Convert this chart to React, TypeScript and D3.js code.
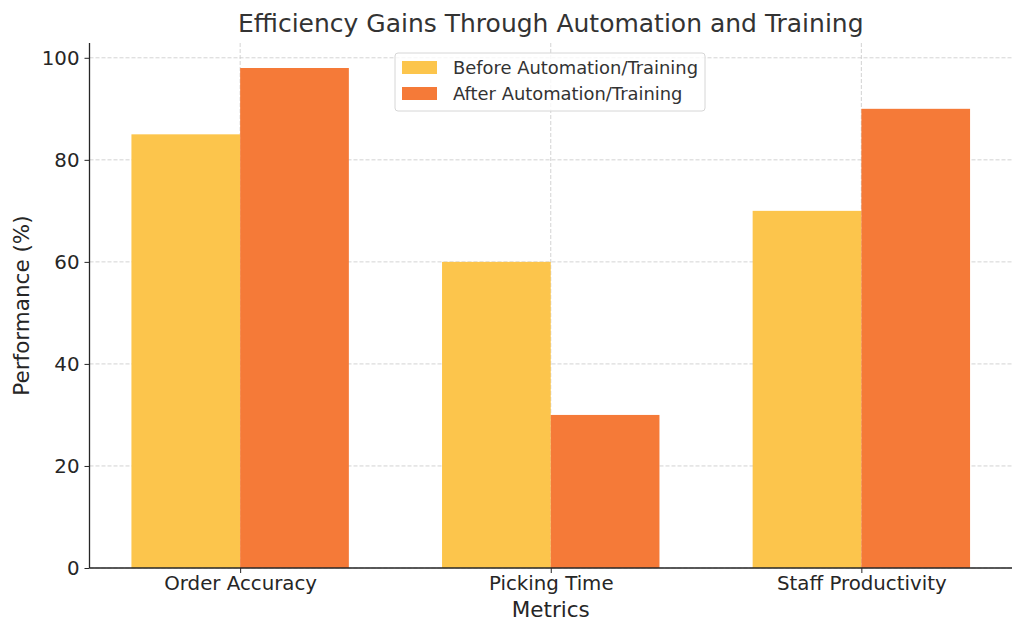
import React, { useEffect, useRef } from 'react';
import * as d3 from 'd3';

const categories = ['Order Accuracy', 'Picking Time', 'Staff Productivity'];
const beforeValues = [85, 60, 70];
const afterValues = [98, 30, 90];
const seriesNames = ['Before Automation/Training', 'After Automation/Training'];
const seriesColors = ['#fcc54c', '#f57a38'];
const yTicks = [0, 20, 40, 60, 80, 100];

const App = () => {
  const svgRef = useRef<SVGSVGElement>(null);

  useEffect(() => {
    const svg = d3.select(svgRef.current);
    svg.selectAll('*').remove();

    const width = 1024;
    const height = 635;
    const margin = { top: 43, right: 12, bottom: 67, left: 89.5 };
    const font = 'DejaVu Sans, sans-serif';
    const textColor = '#262626';

    svg.attr('width', width).attr('height', height);

    const barW = 0.35;
    const x = d3.scaleLinear()
      .domain([-barW - 0.135, categories.length - 1 + barW + 0.135])
      .range([margin.left, width - margin.right]);

    const yMax = d3.max(afterValues.concat(beforeValues))! * 1.05;
    const y = d3.scaleLinear()
      .domain([0, yMax])
      .range([height - margin.bottom, margin.top]);

    const series = [beforeValues, afterValues];

    // grid
    const grid = svg.append('g');
    yTicks.forEach(t => {
      grid.append('line')
        .attr('x1', margin.left).attr('x2', width - margin.right)
        .attr('y1', y(t)).attr('y2', y(t))
        .attr('stroke', '#c8c8c8').attr('stroke-width', 0.8)
        .attr('stroke-dasharray', '4,2');
    });
    categories.forEach((_, i) => {
      grid.append('line')
        .attr('x1', x(i)).attr('x2', x(i))
        .attr('y1', margin.top).attr('y2', height - margin.bottom)
        .attr('stroke', '#c8c8c8').attr('stroke-width', 0.8)
        .attr('stroke-dasharray', '4,2');
    });

    // bars
    series.forEach((vals, s) => {
      svg.append('g')
        .selectAll('rect')
        .data(vals)
        .enter()
        .append('rect')
        .attr('x', (_, i) => x(i + (s === 0 ? -barW : 0)))
        .attr('width', x(barW) - x(0))
        .attr('y', d => y(d))
        .attr('height', d => y(0) - y(d))
        .attr('fill', seriesColors[s]);
    });

    // axes
    const yAxis = svg.append('g')
      .attr('transform', `translate(${margin.left},0)`)
      .call(d3.axisLeft(y).tickValues(yTicks).tickSize(5).tickPadding(5));
    const xAxis = svg.append('g')
      .attr('transform', `translate(0,${height - margin.bottom})`)
      .call(d3.axisBottom(x).tickValues(categories.map((_, i) => i))
        .tickFormat((d) => categories[d as number]).tickSize(5).tickPadding(3));

    [yAxis, xAxis].forEach(a => {
      a.select('.domain').attr('stroke', textColor).attr('stroke-width', 1.3);
      a.selectAll('.tick line').attr('stroke', textColor).attr('stroke-width', 1);
      a.selectAll('text').style('font-family', font).style('font-size', '19.8px').attr('fill', textColor);
    });
    yAxis.select('.domain').attr('d', `M0,${y(0)}V${margin.top}`);
    xAxis.select('.domain').attr('d', `M${margin.left},0H${width - margin.right}`);

    // title & labels
    svg.append('text')
      .attr('x', (margin.left + width - margin.right) / 2)
      .attr('y', 32)
      .attr('text-anchor', 'middle')
      .style('font-family', font).style('font-size', '25px')
      .attr('fill', '#333333')
      .text('Efficiency Gains Through Automation and Training');

    svg.append('text')
      .attr('x', (margin.left + width - margin.right) / 2)
      .attr('y', 617)
      .attr('text-anchor', 'middle')
      .style('font-family', font).style('font-size', '21.5px')
      .attr('fill', textColor)
      .text('Metrics');

    svg.append('text')
      .attr('transform', `translate(29,${(margin.top + height - margin.bottom) / 2}) rotate(-90)`)
      .attr('text-anchor', 'middle')
      .style('font-family', font).style('font-size', '21.5px')
      .attr('fill', textColor)
      .text('Performance (%)');

    // legend
    const lg = svg.append('g').attr('transform', 'translate(395,53)');
    lg.append('rect')
      .attr('width', 310).attr('height', 58).attr('rx', 3)
      .attr('fill', 'white').attr('fill-opacity', 0.8)
      .attr('stroke', '#d6d6d6').attr('stroke-width', 1);
    seriesNames.forEach((name, i) => {
      lg.append('rect')
        .attr('x', 7).attr('y', 8 + i * 26)
        .attr('width', 35).attr('height', 13)
        .attr('fill', seriesColors[i]);
      lg.append('text')
        .attr('x', 58).attr('y', 21 + i * 26)
        .style('font-family', font).style('font-size', '17.9px')
        .attr('fill', '#333333')
        .text(name);
    });
  }, []);

  return <svg ref={svgRef} style={{ position: 'absolute', left: 0, top: 0 }}></svg>;
};

export default App;
